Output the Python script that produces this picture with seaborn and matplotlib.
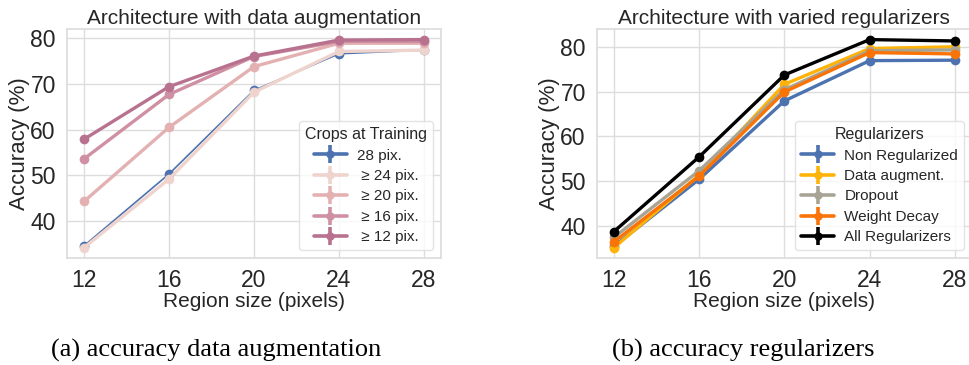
import matplotlib
matplotlib.use("Agg")
import matplotlib.pyplot as plt
from matplotlib.lines import Line2D
import seaborn as sns
import pandas as pd

region = [12, 16, 20, 24, 28]

crop_labels = ["28 pix.", " \u2265 24 pix.", " \u2265 20 pix.", " \u2265 16 pix.", " \u2265 12 pix."]
crop_28 = [34.6, 50.3, 68.6, 76.6, 77.4]
crop_24 = [34.2, 49.2, 68.2, 77.1, 77.4]
crop_20 = [44.3, 60.5, 73.8, 78.9, 78.9]
crop_16 = [53.6, 67.7, 76.0, 79.3, 79.3]
crop_12 = [57.9, 69.4, 76.1, 79.6, 79.7]

reg_labels = ["Non Regularized", "Data augment.", "Dropout", "Weight Decay", "All Regularizers"]
non_reg = [35.4, 50.4, 67.9, 76.9, 77.0]
data_aug = [35.1, 51.3, 71.6, 79.6, 80.0]
dropout = [37.4, 52.3, 70.4, 79.1, 79.3]
weight_decay = [36.4, 51.1, 69.9, 78.7, 78.4]
all_reg = [38.7, 55.4, 73.7, 81.6, 81.3]

crop_colors = ["#4c72b0", "#efd3cd", "#e3b1b2", "#d090a3", "#b8728f"]
crop_lw = [1.2, 2.4, 2.4, 2.4, 2.4]
reg_colors = ["#4c72b0", "#feb308", "#a8a495", "#f97306", "#000000"]

sns.set_theme(style="whitegrid")
plt.rcParams["font.family"] = ["Liberation Sans", "DejaVu Sans"]
plt.rcParams["axes.edgecolor"] = "#dddddd"
plt.rcParams["grid.color"] = "#dddddd"

fig = plt.figure(figsize=(9.69, 3.65), dpi=100)
ax1 = fig.add_axes([0.0691, 0.293, 0.386, 0.627])
ax2 = fig.add_axes([0.616, 0.293, 0.387, 0.627])


def draw(ax, labels, series, colors, lws, title, legend_title):
    handles = []
    for lab, vals, c, lw in zip(labels, series, colors, lws):
        df = pd.DataFrame({"Region": region, "Accuracy": vals})
        sns.lineplot(data=df, x="Region", y="Accuracy", ax=ax, color=c, lw=lw,
                     marker="o", markersize=7, markeredgewidth=0)
        handles.append((Line2D([], [], color=c, lw=2.6, marker="o", ms=6, mew=0),
                        Line2D([], [], color=c, marker="|", ms=13, mew=2.6, ls="none")))
    ax.set_xticks(region)
    ax.set_title(title, fontsize=15, pad=4)
    ax.set_xlabel("Region size (pixels)", fontsize=15, labelpad=0)
    ax.set_ylabel("Accuracy (%)", fontsize=16, labelpad=0)
    ax.tick_params(axis="both", labelsize=16.5, pad=2)
    ax.set_yticks([40, 50, 60, 70, 80])
    leg = ax.legend(handles, labels, title=legend_title, loc="lower right",
                    fontsize=11, title_fontsize=11.5, handlelength=2.2,
                    handletextpad=0.65, frameon=True, borderaxespad=0.5,
                    labelspacing=0.42)
    leg.get_frame().set_edgecolor("#dddddd")
    for sp in ax.spines.values():
        sp.set_color("#dddddd")


draw(ax1, crop_labels, [crop_28, crop_24, crop_20, crop_16, crop_12], crop_colors, crop_lw,
     "Architecture with data augmentation", "Crops at Training")
draw(ax2, reg_labels, [non_reg, data_aug, dropout, weight_decay, all_reg], reg_colors, [2.4] * 5,
     "Architecture with varied regularizers", "Regularizers")

fig.text(0.223, 0.041, "(a) accuracy data augmentation", ha="center", va="center",
         fontsize=19, family="Liberation Serif", color="black")
fig.text(0.767, 0.041, "(b) accuracy regularizers", ha="center", va="center",
         fontsize=19, family="Liberation Serif", color="black")

fig.savefig("out.png", dpi=100)
